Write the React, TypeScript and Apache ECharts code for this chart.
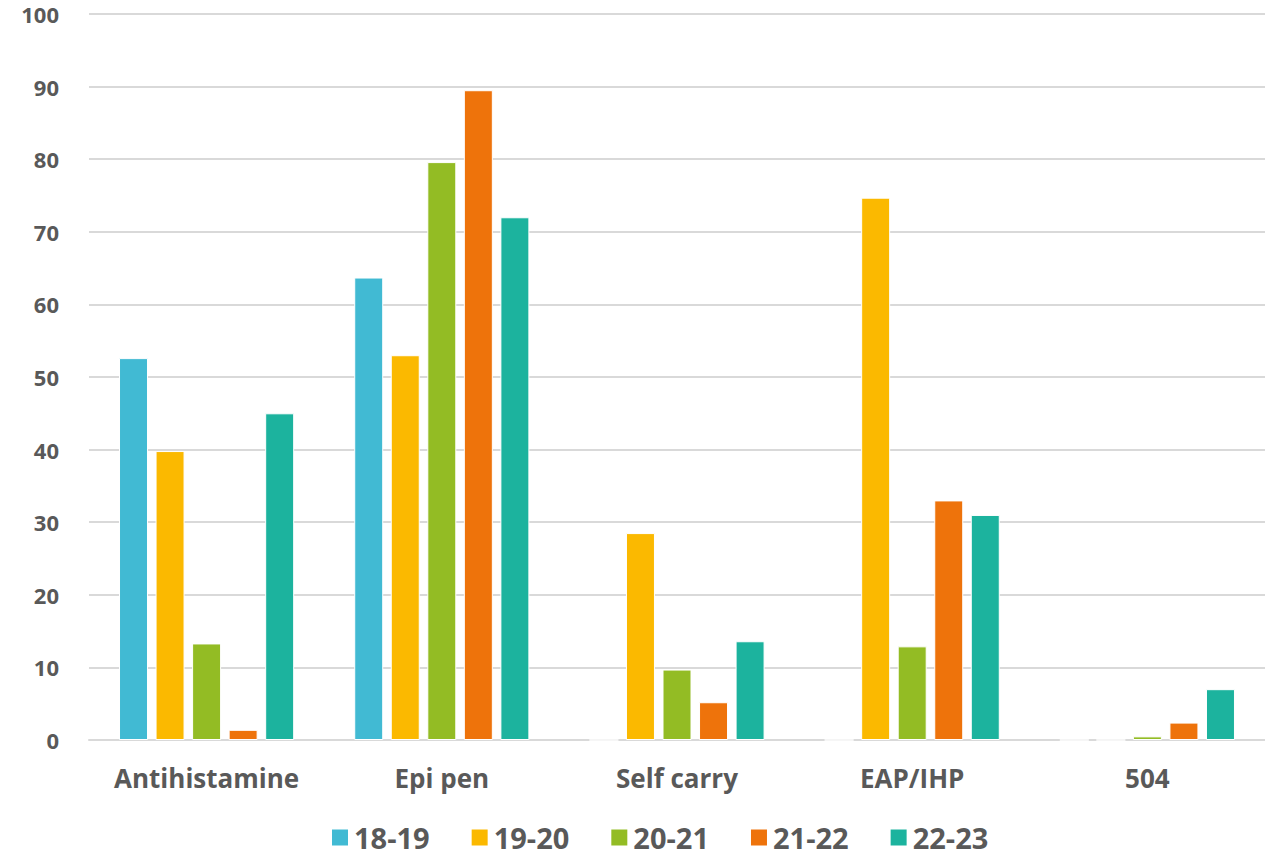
import React, { useEffect, useRef } from "react";
import * as echarts from "echarts";

const categories = ["Antihistamine", "Epi pen", "Self carry", "EAP/IHP", "504"];
const seriesNames = ["18-19", "19-20", "20-21", "21-22", "22-23"];
const s1819 = [52.6, 63.7, 0, 0, 0];
const s1920 = [39.8, 53.0, 28.5, 74.7, 0];
const s2021 = [13.3, 79.6, 9.7, 12.9, 0.5];
const s2122 = [1.4, 89.5, 5.2, 33.0, 2.4];
const s2223 = [45.0, 72.0, 13.6, 31.0, 7.0];
const colors = ["#41BAD3", "#FBB900", "#93BC24", "#EE730B", "#1CB39E"];

export default function App() {
  const ref = useRef<HTMLDivElement>(null);
  useEffect(() => {
    if (!ref.current) return;
    const chart = echarts.init(ref.current, undefined, { renderer: "svg" });
    const data = [s1819, s1920, s2021, s2122, s2223];
    const font = "Open Sans";
    chart.setOption({
      animation: false,
      color: colors,
      grid: { left: 89, right: -11, top: 14, bottom: 116, containLabel: false },
      legend: {
        top: 818,
        left: 325,
        itemWidth: 18,
        itemHeight: 18,
        itemGap: 40,
        icon: "rect",
        textStyle: { fontFamily: font, fontWeight: "bold", fontSize: 29, color: "#595959" },
        data: seriesNames,
      },
      xAxis: {
        type: "category",
        data: categories,
        axisLine: { lineStyle: { color: "#D9D9D9", width: 2 } },
        axisTick: { show: false },
        axisLabel: { interval: 0, margin: 25, fontFamily: font, fontWeight: "bold", fontSize: 26, color: "#595959" },
      },
      yAxis: {
        type: "value",
        min: 0,
        max: 100,
        interval: 10,
        axisLine: { show: false },
        axisTick: { show: false },
        splitLine: { lineStyle: { color: "#D9D9D9", width: 2 } },
        axisLabel: { margin: 30, fontFamily: font, fontWeight: "bold", fontSize: 22, padding: [6, 0, 0, 0], color: "#595959" },
      },
      series: seriesNames.map((n, i) => ({
        name: n,
        type: "bar",
        data: data[i],
        barWidth: 29,
        barGap: "26%",
        itemStyle: { color: colors[i], borderColor: "#ffffff", borderWidth: 1 },
      })),
    });
    return () => chart.dispose();
  }, []);
  return <div ref={ref} style={{ position: "absolute", left: 0, top: 0, width: 1265, height: 856, overflow: "hidden" }} />;
}
